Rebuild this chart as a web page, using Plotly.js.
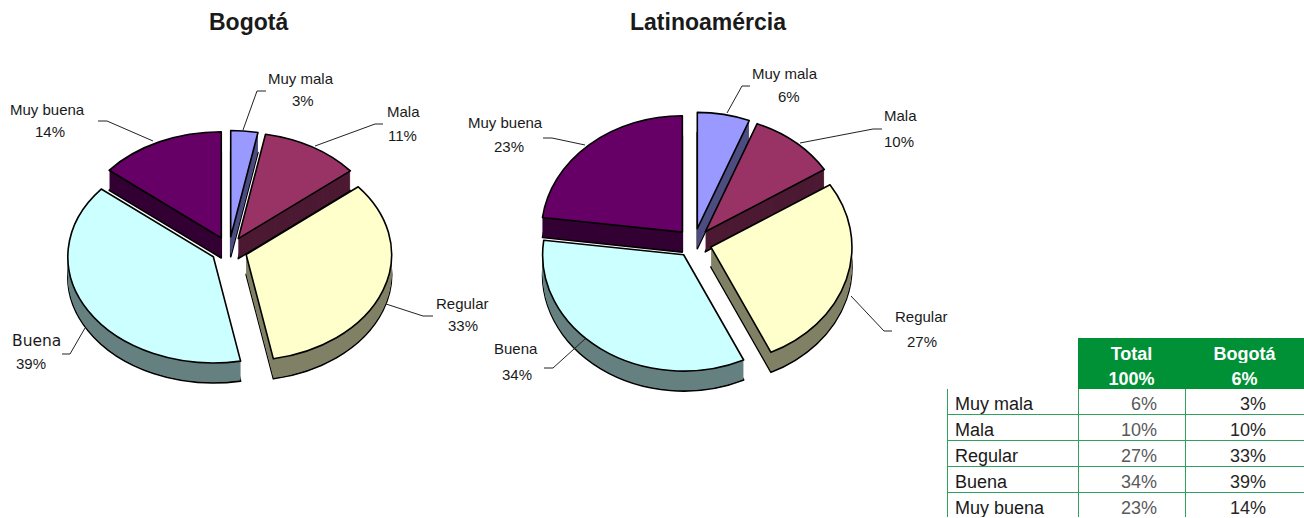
<!DOCTYPE html>
<html>
<head>
<meta charset="utf-8">
<script src="https://cdn.plot.ly/plotly-3.0.1.min.js"></script>
<style>html,body{margin:0;padding:0;background:#fff;overflow:hidden}</style>
</head>
<body>
<div id="chart" style="width:1304px;height:518px"></div>
<script>
// ---- data ----
const categories = ['Muy mala', 'Mala', 'Regular', 'Buena', 'Muy buena'];
const bogotaValues = [3, 11, 33, 39, 14];
const latamValues = [6, 10, 27, 34, 23];
const tableTotal = [6, 10, 27, 34, 23];
const tableBogota = [3, 10, 33, 39, 14];
const chartTitles = ['Bogotá', 'Latinoamércia'];
const tableHeadTotal = ['Total', '100%'];
const tableHeadBogota = ['Bogotá', '6%'];

// ---- styles ----
const topColors = ['#9999FF', '#993366', '#FFFFCC', '#CCFFFF', '#660066'];
const sideColors = ['#4D4D80', '#4D1A33', '#808066', '#668080', '#330033'];
const W = 1304, H = 518;
const px = x => x / W, py = y => 1 - y / H;

const pieGeometry = [
  {values: bogotaValues, cx: 229, cy: 250, r: 145.5, k: 0.73, pull: 0.125, depth: 20},
  {values: latamValues, cx: 694, cy: 243, r: 141, k: 0.825, pull: 0.125, depth: 20}
];

const traces = [];
const layerInfo = [];
pieGeometry.forEach(g => {
  const half = g.r * (1 + g.pull);
  const domain = {x: [px(g.cx - half), px(g.cx + half)], y: [py(g.cy + half), py(g.cy - half)]};
  for (let d = g.depth; d >= 0; d--) {
    const isTop = d === 0, isBottom = d === g.depth;
    traces.push({
      type: 'pie', labels: categories, values: g.values, sort: false,
      direction: 'clockwise', rotation: 0, domain,
      pull: g.values.map(() => g.pull), textinfo: 'none', hoverinfo: 'skip',
      showlegend: false,
      marker: {
        colors: isTop ? topColors : sideColors,
        line: {color: (isTop || isBottom) ? '#000' : 'rgba(0,0,0,0)', width: (isTop || isBottom) ? 1.6 : 0}
      }
    });
    layerInfo.push({cx: g.cx, cy: g.cy, k: g.k, d});
  }
});

// table
traces.push({
  type: 'table',
  domain: {x: [px(947), 1], y: [0, py(338)]},
  columnwidth: [131, 107, 119],
  header: {
    values: [['', ''], tableHeadTotal, tableHeadBogota],
    height: 25,
    align: ['left', 'center', 'center'],
    fill: {color: ['#ffffff', '#009036', '#009036']},
    line: {color: ['#ffffff', '#009036', '#009036'], width: 1},
    font: {family: 'Liberation Sans, Arial, sans-serif', size: 18, color: '#ffffff', weight: 700}
  },
  cells: {
    values: [categories.map(s => s.replace(' ', '\u00a0')), tableTotal, tableBogota],
    suffix: ['', '%\u00a0\u00a0\u00a0\u00a0', '%\u00a0\u00a0\u00a0\u00a0\u00a0\u00a0'],
    height: 26,
    align: ['left', 'right', 'right'],
    fill: {color: '#ffffff'},
    line: {color: '#2FA35E', width: 1},
    font: {family: 'Liberation Sans, Arial, sans-serif', size: 18, color: ['#1a1a1a', '#595959', '#262626']}
  }
});

// ---- labels ----
const labelFont = {family: 'Liberation Sans, Arial, sans-serif', size: 15, color: '#1a1a1a'};
const labelSpots = [
  [[301, 78, 303, 101], [403, 111, 402, 135], [462, 303, 463, 325], [36, 341, 31, 363], [47, 109, 50, 131]],
  [[785, 73, 789, 97], [900, 115, 899, 141], [921, 316, 922, 341], [516, 348, 517, 374], [505, 123, 509, 146]]
];
const leaders = [
  [[[243,130],[257,91],[266,91]], [[315,146],[375,124],[383,124]], [[386,304],[423,316],[433,316]], [[85,328],[70,354],[62,354]], [[153,141],[107,121],[98,121]]],
  [[[727,113],[742,86],[750,86]], [[800,143],[873,129],[882,129]], [[851,296],[884,331],[892,331]], [[585,339],[553,368],[544,368]], [[585,145],[552,138],[543,138]]]
];
const annotations = [];
const note = (x, y, text, font) => annotations.push({
  xref: 'paper', yref: 'paper', x: px(x), y: py(y), text, showarrow: false,
  xanchor: 'center', yanchor: 'middle', font
});
const titleFont = {family: 'Liberation Sans, Arial, sans-serif', size: 23, color: '#1a1a1a', weight: 700};
note(248, 22, chartTitles[0], titleFont);
note(708, 22, chartTitles[1], titleFont);
const shapes = [];
[bogotaValues, latamValues].forEach((vals, p) => {
  categories.forEach((c, i) => {
    const s = labelSpots[p][i];
    const f = (p === 0 && c === 'Buena') ? {family: 'DejaVu Sans, sans-serif', size: 15.5, color: '#1a1a1a'} : labelFont;
    note(s[0], s[1], c, f);
    note(s[2], s[3], vals[i] + '%', labelFont);
    shapes.push({
      type: 'path', xref: 'paper', yref: 'paper', layer: 'above',
      path: leaders[p][i].map((q, j) => (j ? 'L' : 'M') + px(q[0]) + ',' + py(q[1])).join(' '),
      line: {color: '#222', width: 1}
    });
  });
});

const layout = {
  width: W, height: H, margin: {l: 0, r: 0, t: 0, b: 0},
  paper_bgcolor: '#fff', showlegend: false, annotations, shapes
};

Plotly.newPlot('chart', traces, layout, {staticPlot: true, displayModeBar: false}).then(() => {
  // tilt each pie layer into an ellipse and stack the layers into a solid
  document.querySelectorAll('.pielayer > g.trace').forEach((el, i) => {
    const l = layerInfo[i];
    el.setAttribute('transform',
      `translate(${l.cx},${l.cy + l.d}) scale(1,${l.k}) translate(${-l.cx},${-l.cy})`);
    el.querySelectorAll('path').forEach(p => p.style.vectorEffect = 'non-scaling-stroke');
  });
});
</script>
</body>
</html>
